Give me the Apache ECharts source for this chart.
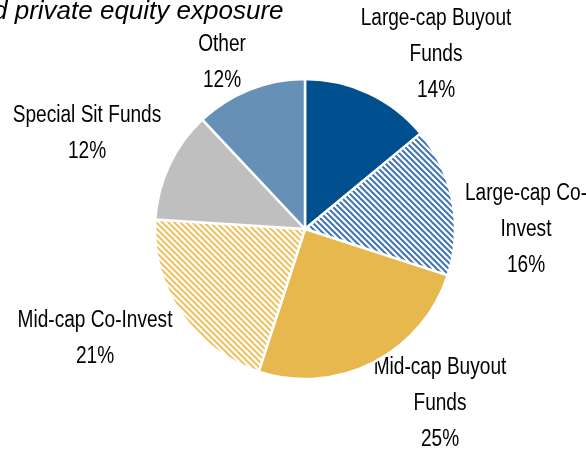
<!DOCTYPE html>
<html>
<head>
    <meta charset="utf-8">
    <title>Private equity exposure</title>
    <script src="https://cdn.jsdelivr.net/npm/echarts@6/dist/echarts.min.js"></script>
    <style>
        html, body { margin: 0; padding: 0; background: #fff; }
        #chart { width: 586px; height: 450px; }
    </style>
</head>
<body>
    <div id="chart"></div>
    <script>
        // slices, clockwise from 12 o'clock
        var names = ['Large-cap Buyout\nFunds', 'Large-cap Co-\nInvest', 'Mid-cap Buyout\nFunds',
            'Mid-cap Co-Invest', 'Special Sit Funds', 'Other'];
        var shares = [14, 16, 25, 21, 12, 12];

        // label centres (layout only)
        var labelPos = [[436, 55], [526, 230], [440, 404], [95, 339], [87, 134], [222, 63]];

        function hatch(color) {
            var n = 6;
            var c = document.createElement('canvas');
            c.width = n;
            c.height = n;
            var g = c.getContext('2d');
            g.fillStyle = '#ffffff';
            g.fillRect(0, 0, n, n);
            g.strokeStyle = color;
            g.lineWidth = 2;
            for (var k = -n; k <= n; k += n) {
                g.beginPath();
                g.moveTo(k - 1, -1);
                g.lineTo(k + n + 1, n + 1);
                g.stroke();
            }
            return { image: c, repeat: 'repeat' };
        }

        var fills = ['#00508f', hatch('#3f74b3'), '#e6b84e', hatch('#f0c15e'), '#bfbfbf', '#6690b5'];

        var data = [];
        for (var i = 0; i < names.length; i++) {
            data.push({ name: names[i], value: shares[i], itemStyle: { color: fills[i] } });
        }

        // the source uses a condensed face; squeeze regular Liberation Sans instead
        var labels = [];
        for (var j = 0; j < names.length; j++) {
            labels.push({
                type: 'text',
                x: labelPos[j][0],
                y: labelPos[j][1],
                scaleX: 0.83,
                silent: true,
                style: {
                    text: names[j] + '\n' + shares[j] + '%',
                    fontFamily: 'Liberation Sans',
                    fontSize: 23,
                    lineHeight: 36,
                    textAlign: 'center',
                    textVerticalAlign: 'middle',
                    fill: '#000'
                }
            });
        }

        var myChart = echarts.init(document.getElementById('chart'), null, { renderer: 'canvas' });
        var option = {
            animation: false,
            title: {
                text: 'd private equity exposure',
                left: -12,
                top: -6,
                textStyle: {
                    fontFamily: 'Liberation Sans',
                    fontStyle: 'italic',
                    fontWeight: 'normal',
                    fontSize: 26,
                    color: '#000'
                }
            },
            graphic: labels,
            series: [
                {
                    type: 'pie',
                    center: [305, 229],
                    radius: 150,
                    startAngle: 90,
                    clockwise: true,
                    itemStyle: {
                        borderColor: '#ffffff',
                        borderWidth: 2.5
                    },
                    label: { show: false },
                    labelLine: { show: false },
                    emphasis: { disabled: true },
                    data: data
                }
            ]
        };
        myChart.setOption(option);
    </script>
</body>
</html>
